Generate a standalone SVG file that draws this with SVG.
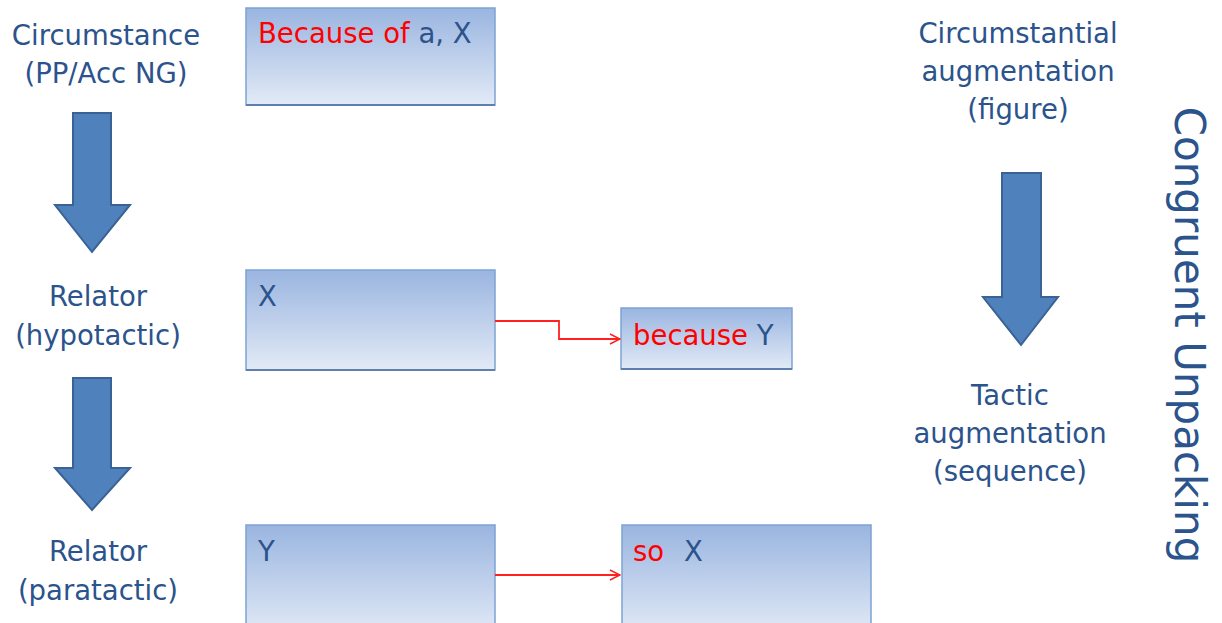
<svg xmlns="http://www.w3.org/2000/svg" width="1222" height="623" viewBox="0 0 1222 623">
<defs>
<linearGradient id="g" x1="0" y1="0" x2="0" y2="1">
<stop offset="0" stop-color="#9AB5E0"/>
<stop offset="1" stop-color="#E2EAF6"/>
</linearGradient>
<marker id="ah" markerWidth="12" markerHeight="12" refX="11" refY="6" orient="auto" markerUnits="userSpaceOnUse">
<path d="M1,1 L11,6 L1,11" fill="none" stroke="#FF2020" stroke-width="1.5"/>
</marker>
</defs>
<style>
.t{font-family:"DejaVu Sans",Verdana,sans-serif;font-size:27.5px;fill:#2B538C;text-anchor:middle}
.bt{font-family:"DejaVu Sans",Verdana,sans-serif;font-size:27.5px;fill:#2B538C}
.r{fill:#FF0000}
.box{fill:url(#g);stroke:#7EA2D3;stroke-width:1.5}
.sh{stroke:#5F7FAF;stroke-width:2}
.ba{fill:#4F81BD;stroke:#3A6294;stroke-width:2}
.c{fill:none;stroke:#FF2020;stroke-width:1.8}
</style>
<g id="lbl-circ"><text class="t" x="106" y="45">Circumstance</text><text class="t" x="106" y="83">(PP/Acc NG)</text></g>
<g id="lbl-hypo"><text class="t" x="98" y="306">Relator</text><text class="t" x="98" y="345">(hypotactic)</text></g>
<g id="lbl-para"><text class="t" x="98" y="561">Relator</text><text class="t" x="98" y="600">(paratactic)</text></g>
<g id="lbl-circaug"><text class="t" x="1018" y="43">Circumstantial</text><text class="t" x="1018" y="81">augmentation</text><text class="t" x="1018" y="119">(figure)</text></g>
<g id="lbl-tactic"><text class="t" x="1010" y="405">Tactic</text><text class="t" x="1010" y="443">augmentation</text><text class="t" x="1010" y="481">(sequence)</text></g>
<g id="lbl-congruent"><text class="t" transform="translate(1175,335) rotate(90)" style="font-size:42px">Congruent Unpacking</text></g>
<g id="arrow1"><path class="ba" d="M73,113 H111 V205 H130 L92,252 L55,205 H73 Z"/></g>
<g id="arrow2"><path class="ba" d="M73,378 H111 V468 H130 L92,510 L55,468 H73 Z"/></g>
<g id="arrow3"><path class="ba" d="M1002,173 H1041 V297 H1058 L1021,345 L983,297 H1002 Z"/></g>
<g id="box1"><rect class="box" x="246" y="8" width="249" height="97"/><line class="sh" x1="246" y1="105" x2="495" y2="105"/><text class="bt" x="258" y="43"><tspan class="r">Because of </tspan>a, X</text></g>
<g id="box2"><rect class="box" x="246" y="270" width="249" height="100"/><line class="sh" x1="246" y1="370" x2="495" y2="370"/><text class="bt" x="258" y="306">X</text></g>
<g id="box3"><rect class="box" x="621" y="308" width="171" height="61"/><line class="sh" x1="621" y1="369" x2="792" y2="369"/><text class="bt" x="633" y="345"><tspan class="r">because </tspan>Y</text></g>
<g id="box4"><rect class="box" x="246" y="525" width="249" height="110"/><text class="bt" x="258" y="561">Y</text></g>
<g id="box5"><rect class="box" x="622" y="525" width="249" height="110"/><text class="bt" x="633" y="561"><tspan class="r">so</tspan><tspan x="684">X</tspan></text></g>
<g id="connectors">
<path class="c" d="M495,321 H559 V339 H620" marker-end="url(#ah)"/>
<path class="c" d="M495,575 H620" marker-end="url(#ah)"/>
</g>
</svg>
